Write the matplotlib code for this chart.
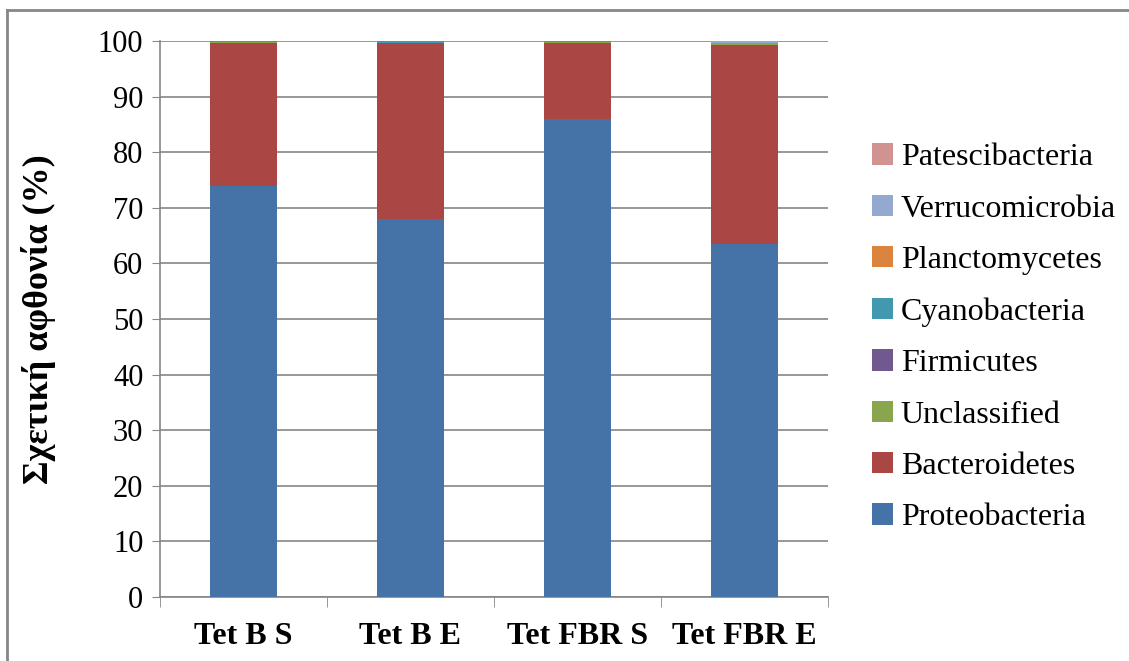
import numpy as np
import matplotlib.pyplot as plt
from matplotlib.lines import Line2D

plt.rcParams['font.family'] = ['Liberation Serif', 'DejaVu Serif']

samples = ['Tet B S', 'Tet B E', 'Tet FBR S', 'Tet FBR E']
phyla = ['Proteobacteria', 'Bacteroidetes', 'Unclassified', 'Firmicutes',
         'Cyanobacteria', 'Planctomycetes', 'Verrucomicrobia', 'Patescibacteria']
colors = ['#4572a7', '#aa4643', '#89a54e', '#71588f',
          '#4198af', '#db843d', '#93a9cf', '#d19392']

proteobacteria = [74.0, 68.0, 86.0, 63.5]
bacteroidetes = [25.6, 31.6, 13.7, 35.8]
unclassified = [0.2, 0.05, 0.05, 0.3]
firmicutes = [0.02, 0.02, 0.02, 0.02]
cyanobacteria = [0.15, 0.3, 0.2, 0.05]
planctomycetes = [0.02, 0.02, 0.02, 0.02]
verrucomicrobia = [0.01, 0.01, 0.01, 0.3]
patescibacteria = [0.0, 0.0, 0.0, 0.03]

series = [proteobacteria, bacteroidetes, unclassified, firmicutes,
          cyanobacteria, planctomycetes, verrucomicrobia, patescibacteria]

fig = plt.figure(figsize=(11.29, 6.61), dpi=100)
ax = fig.add_axes([0.1417, 0.0968, 0.5917, 0.8412])

x = np.arange(len(samples))
bottom = np.zeros(len(samples))
handles = []
for name, vals, c in zip(phyla, series, colors):
    h = ax.bar(x, vals, 0.4, bottom=bottom, color=c, label=name, zorder=3)
    handles.append(h)
    bottom += np.array(vals)

ax.set_xlim(-0.5, 3.5)
ax.set_ylim(0, 100)
ax.set_yticks(range(0, 101, 10))
ax.tick_params(axis='y', labelsize=22, length=6, color='#868686', pad=6)
ax.yaxis.grid(True, color='#868686', linewidth=1.2, zorder=0)
ax.set_xticks(x)
ax.set_xticklabels(samples, fontsize=23, fontweight='bold')
ax.tick_params(axis='x', length=0, pad=18)
ax.set_xticks(np.arange(-0.5, 4, 1), minor=True)
ax.tick_params(axis='x', which='minor', length=7, color='#868686')
for s in ['top', 'right']:
    ax.spines[s].set_visible(False)
for s in ['left', 'bottom']:
    ax.spines[s].set_color('#868686')
    ax.spines[s].set_linewidth(1.2)
ax.set_ylabel('Σχετική αφθονία (%)', fontsize=26, fontweight='bold', labelpad=30)

fig.legend(handles[::-1], phyla[::-1], loc='center left', bbox_to_anchor=(0.747, 0.489),
           frameon=False, fontsize=23, handlelength=0.65, handleheight=0.65,
           labelspacing=0.70, handletextpad=0.25)

# partial frame around the chart (top and left edges visible)
fig.add_artist(Line2D([7 / 1129, 1], [1 - 10 / 661, 1 - 10 / 661], transform=fig.transFigure,
                      color='#868686', linewidth=2))
fig.add_artist(Line2D([7 / 1129, 7 / 1129], [0, 1 - 10 / 661], transform=fig.transFigure,
                      color='#868686', linewidth=2))

fig.savefig('out.png', dpi=100)
